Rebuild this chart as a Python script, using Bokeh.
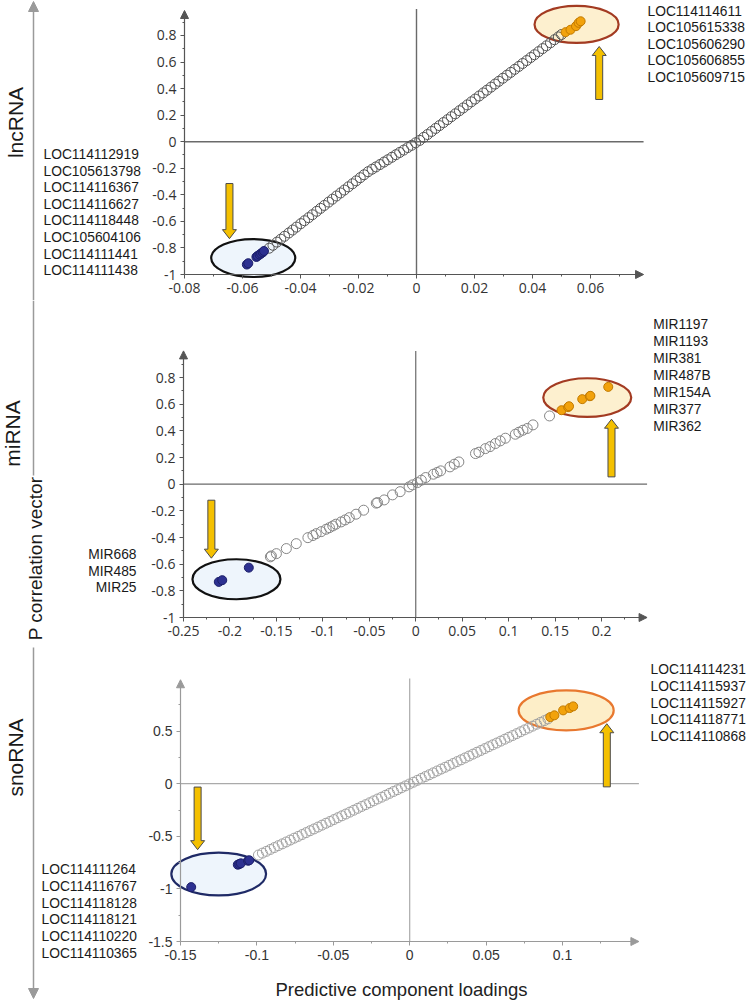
import math
from bokeh.plotting import figure
from bokeh.models import Range1d, FixedTicker, CustomJSTickFormatter, Label, Arrow, NormalHead
from bokeh.layouts import column
from bokeh.embed import file_html
from bokeh.resources import INLINE
from bokeh.core.properties import value

# ---------------- data ----------------
# lncRNA panel
lnc_x = [-0.0508,-0.0495,-0.0481,-0.0468,-0.0455,-0.0440,-0.0427,-0.0414,-0.0399,-0.0386,
         -0.0372,-0.0359,-0.0344,-0.0331,-0.0318,-0.0303,-0.0290,-0.0276,-0.0262,-0.0249,
         -0.0235,-0.0221,-0.0208,-0.0194,-0.0181,-0.0167,-0.0153,-0.0140,-0.0126,-0.0112,
         -0.0099,-0.0085,-0.0071,-0.0058,-0.0044,-0.0030,-0.0017,-0.0003,0.0011,0.0025,
         0.0038,0.0052,0.0066,0.0079,0.0093,0.0107,0.0120,0.0134,0.0148,0.0161,
         0.0175,0.0189,0.0202,0.0216,0.0230,0.0243,0.0257,0.0271,0.0284,0.0298,
         0.0312,0.0325,0.0339,0.0353,0.0366,0.0380,0.0394,0.0407,0.0421,0.0435,
         0.0448,0.0462,0.0476,0.0489,0.0500]
lnc_y = [-0.802,-0.780,-0.756,-0.734,-0.712,-0.687,-0.665,-0.643,-0.617,-0.595,
         -0.572,-0.550,-0.524,-0.502,-0.480,-0.455,-0.433,-0.409,-0.386,-0.364,
         -0.340,-0.317,-0.295,-0.271,-0.249,-0.226,-0.207,-0.190,-0.172,-0.153,
         -0.136,-0.117,-0.098,-0.081,-0.063,-0.044,-0.027,-0.008,0.010,0.033,
         0.054,0.077,0.100,0.121,0.144,0.166,0.188,0.210,0.233,0.254,
         0.277,0.300,0.321,0.344,0.367,0.388,0.411,0.434,0.455,0.478,
         0.501,0.522,0.545,0.567,0.589,0.611,0.634,0.655,0.678,0.701,
         0.722,0.745,0.768,0.789,0.807]
lnc_down_x = [-0.0585,-0.0580,-0.0552,-0.0548,-0.0541,-0.0536,-0.0530,-0.0526]
lnc_down_y = [-0.925,-0.915,-0.868,-0.860,-0.850,-0.842,-0.833,-0.823]
lnc_up_x = [0.0514,0.0531,0.0550,0.0559,0.0566]
lnc_up_y = [0.825,0.843,0.870,0.895,0.907]
lnc_up_names = ["LOC114114611","LOC105615338","LOC105606290","LOC105606855","LOC105609715"]
lnc_down_names = ["LOC114112919","LOC105613798","LOC114116367","LOC114116627",
                  "LOC114118448","LOC105604106","LOC114111441","LOC114111438"]

# miRNA panel
mi_x = [-0.1565,-0.1554,-0.1500,-0.1393,-0.1286,-0.1161,-0.1107,-0.1072,-0.1018,-0.0965,
        -0.0929,-0.0893,-0.0804,-0.0715,-0.0643,-0.0561,-0.0425,-0.0411,-0.0340,-0.0250,
        -0.0168,-0.0072,-0.0035,0.0018,0.0107,0.0190,0.0268,0.0368,0.0415,0.0464,
        0.0643,0.0680,0.0750,0.0800,0.0857,0.0965,0.1072,0.1154,0.1200,0.1262,0.1440,
        -0.0860,-0.0760,0.0060,0.0230,0.0910,0.1110]
mi_y = [-0.545,-0.538,-0.521,-0.483,-0.446,-0.401,-0.385,-0.371,-0.356,-0.338,
        -0.326,-0.313,-0.283,-0.251,-0.225,-0.195,-0.142,-0.138,-0.118,-0.080,
        -0.056,-0.020,-0.005,0.012,0.050,0.075,0.100,0.130,0.150,0.167,
        0.230,0.240,0.267,0.282,0.305,0.345,0.375,0.405,0.418,0.445,0.512,
        -0.300,-0.268,0.030,0.088,0.325,0.390]
mi_down_x = [-0.2120,-0.2083,-0.1797]
mi_down_y = [-0.733,-0.720,-0.626]
mi_up_x = [0.1569,0.1640,0.1650,0.1792,0.1874,0.1880,0.2072]
mi_up_y = [0.555,0.578,0.585,0.638,0.660,0.663,0.730]
mi_up_names = ["MIR1197","MIR1193","MIR381","MIR487B","MIR154A","MIR377","MIR362"]
mi_down_names = ["MIR668","MIR485","MIR25"]

# snoRNA panel
sno_x = [-0.0990,-0.0964,-0.0938,-0.0912,-0.0886,-0.0860,-0.0834,-0.0808,-0.0782,-0.0756,
         -0.0730,-0.0704,-0.0678,-0.0652,-0.0626,-0.0600,-0.0574,-0.0548,-0.0522,-0.0496,
         -0.0470,-0.0444,-0.0418,-0.0392,-0.0366,-0.0340,-0.0314,-0.0288,-0.0262,-0.0236,
         -0.0210,-0.0184,-0.0158,-0.0132,-0.0106,-0.0080,-0.0054,-0.0028,-0.0002,0.0024,
         0.0050,0.0076,0.0102,0.0128,0.0154,0.0180,0.0206,0.0232,0.0258,0.0284,
         0.0310,0.0336,0.0362,0.0388,0.0414,0.0440,0.0466,0.0492,0.0518,0.0544,
         0.0570,0.0596,0.0622,0.0648,0.0674,0.0700,0.0726,0.0752,0.0778,0.0804,
         0.0830,0.0856,0.0882,0.0905]
sno_y = [-0.678,-0.660,-0.643,-0.625,-0.607,-0.589,-0.572,-0.554,-0.536,-0.518,
         -0.501,-0.483,-0.465,-0.447,-0.430,-0.412,-0.394,-0.376,-0.359,-0.341,
         -0.323,-0.305,-0.288,-0.270,-0.252,-0.234,-0.216,-0.199,-0.181,-0.163,
         -0.145,-0.128,-0.110,-0.092,-0.074,-0.057,-0.039,-0.021,-0.003,0.014,
         0.032,0.050,0.068,0.085,0.103,0.121,0.139,0.156,0.174,0.192,
         0.210,0.227,0.245,0.263,0.281,0.299,0.316,0.334,0.352,0.370,
         0.387,0.405,0.423,0.441,0.458,0.476,0.494,0.512,0.529,0.547,
         0.565,0.583,0.600,0.616]
sno_down_x = [-0.1430,-0.1125,-0.1115,-0.1105,-0.1058,-0.1050]
sno_down_y = [-0.983,-0.770,-0.764,-0.757,-0.732,-0.728]
sno_up_x = [0.0920,0.0947,0.1004,0.1047,0.1070]
sno_up_y = [0.633,0.650,0.697,0.719,0.735]
sno_up_names = ["LOC114114231","LOC114115937","LOC114115927","LOC114118771","LOC114110868"]
sno_down_names = ["LOC114111264","LOC114116767","LOC114118128","LOC114118121",
                  "LOC114110220","LOC114110365"]

group_names = ["lncRNA", "miRNA", "snoRNA"]

# tick values
p1_xt = [-0.08,-0.06,-0.04,-0.02,0,0.02,0.04,0.06]
p1_xmt = [-0.07,-0.05,-0.03,-0.01,0.01,0.03,0.05,0.07]
p1_yt = [-1,-0.8,-0.6,-0.4,-0.2,0,0.2,0.4,0.6,0.8]
p1_ymt = [-0.9,-0.7,-0.5,-0.3,-0.1,0.1,0.3,0.5,0.7,0.9]
p2_xt = [-0.25,-0.2,-0.15,-0.1,-0.05,0,0.05,0.1,0.15,0.2]
p2_xmt = [-0.225,-0.175,-0.125,-0.075,-0.025,0.025,0.075,0.125,0.175,0.225]
p2_yt = p1_yt
p2_ymt = p1_ymt
p3_xt = [-0.15,-0.1,-0.05,0,0.05,0.1]
p3_xmt = [-0.125,-0.075,-0.025,0.025,0.075,0.125]
p3_yt = [-1.5,-1,-0.5,0,0.5]
p3_ymt = [-1.25,-0.75,-0.25,0.25,0.75]

BLUE, BLUE_LINE = "#2d3191", "#1c1f6a"
ORANGE, ORANGE_LINE = "#f2a20c", "#c27a00"
ARROW_FILL, ARROW_LINE = "#f4c000", "#4a4a4a"
LABEL_FONT = "Liberation Sans"
GRAY = "#9a9a9a"

PAGE_L, PAGE_R = 0, 748
FIG_W = PAGE_R - PAGE_L

panels = [
    dict(fig_top=0, fig_h=300, frame_left=184, frame_bottom=274,
         x0=-0.08, sx=2900.0, y0=-1.0, sy=132.8,
         xtip=0.0783, ytip=0.988, vtop=1.0,
         xt=p1_xt, xmt=p1_xmt, yt=p1_yt, ymt=p1_ymt,
         axis_color="#555555", zero_color="#6a6a6a", zero_w=1.4, circ_color="#555555",
         tick_font="Open Sans",
         ox=lnc_x, oy=lnc_y, bx=lnc_down_x, by=lnc_down_y, ux=lnc_up_x, uy=lnc_up_y,
         ell_down=(-0.0563, -0.876, 0.029, 0.286, "#111111"),
         ell_up=(0.0552, 0.883, 0.029, 0.279, "#a33b22", "#fdf0cf"),
         arr_down=(-0.0645, -0.315, -0.73), arr_up=(0.063, 0.318, 0.717),
         up_names=lnc_up_names, up_pos=(647, 10.5, 16.6, "left"),
         down_names=lnc_down_names, down_pos=(43, 154, 16.6, "left"),
         side_lines=[(300, 1, True)], side_text=[(group_names[0], 15, 122, 21)]),
    dict(fig_top=300, fig_h=340, frame_left=183, frame_bottom=617,
         x0=-0.25, sx=929.0, y0=-1.0, sy=133.3,
         xtip=0.249, ytip=1.0, vtop=1.0,
         xt=p2_xt, xmt=p2_xmt, yt=p2_yt, ymt=p2_ymt,
         axis_color="#555555", zero_color="#6a6a6a", zero_w=1.2, circ_color="#858585",
         tick_font="Open Sans",
         ox=mi_x, oy=mi_y, bx=mi_down_x, by=mi_down_y, ux=mi_up_x, uy=mi_up_y,
         ell_down=(-0.193, -0.713, 0.0947, 0.30, "#111111"),
         ell_up=(0.1846, 0.65, 0.0947, 0.29, "#a33b22", "#fdf0cf"),
         arr_down=(-0.220, -0.12, -0.555), arr_up=(0.2107, 0.055, 0.4875),
         up_names=mi_up_names, up_pos=(652.7, 324.3, 16.95, "left"),
         down_names=mi_down_names, down_pos=(136, 554, 16.7, "right"),
         side_lines=[(300, 475, False)],
         side_text=[(group_names[1], 11.5, 433, 21), ("P correlation vector", 35, 558, 19)]),
    dict(fig_top=640, fig_h=360, frame_left=180, frame_bottom=941,
         x0=-0.15, sx=1528.0, y0=-1.5, sy=105.2,
         xtip=0.15, ytip=0.988, vtop=1.0,
         xt=p3_xt, xmt=p3_xmt, yt=p3_yt, ymt=p3_ymt,
         axis_color="#9a9a9a", zero_color="#aaaaaa", zero_w=1.2, circ_color="#a3a3a3",
         tick_font="Liberation Sans",
         ox=sno_x, oy=sno_y, bx=sno_down_x, by=sno_down_y, ux=sno_up_x, uy=sno_up_y,
         ell_down=(-0.125, -0.859, 0.062, 0.406, "#1f2a66"),
         ell_up=(0.1024, 0.697, 0.0622, 0.38, "#e8782f", "#fdeec8"),
         arr_down=(-0.1388, -0.032, -0.627), arr_up=(0.129, -0.03, 0.57),
         up_names=sno_up_names, up_pos=(650, 669.3, 16.7, "left"),
         down_names=sno_down_names, down_pos=(41, 868.7, 16.9, "left"),
         side_lines=[(647, 998, True)], side_text=[(group_names[2], 15, 757, 21)]),
]

fmt_code = "return String(Math.round(tick*1000)/1000);"


def to_data(c, px, py):
    return (c["x0"] + (px - c["frame_left"]) / c["sx"],
            c["y0"] + (c["frame_bottom"] - py) / c["sy"])


def block_arrow(p, c, xc, y_tail, y_tip, shaft=7, head=14, hlen=9):
    d = 1 if y_tip > y_tail else -1
    sw = shaft / 2 / c["sx"]
    hw = head / 2 / c["sx"]
    hl = hlen / c["sy"]
    yb = y_tip - d * hl
    xs = [xc - sw, xc + sw, xc + sw, xc + hw, xc, xc - hw, xc - sw]
    ys = [y_tail, y_tail, yb, yb, y_tip, yb, yb]
    p.patch(xs, ys, fill_color=ARROW_FILL, line_color=ARROW_LINE, line_width=1)


def build_panel(c):
    fig_bottom = c["fig_top"] + c["fig_h"]
    xl, yb = to_data(c, PAGE_L, fig_bottom)
    xr, yt = to_data(c, PAGE_R, c["fig_top"])
    x0, sx, y0, sy = c["x0"], c["sx"], c["y0"], c["sy"]
    p = figure(width=FIG_W, height=c["fig_h"],
               x_range=Range1d(xl, xr), y_range=Range1d(yb, yt),
               output_backend="svg", toolbar_location=None, min_border=0)
    p.grid.visible = False
    p.outline_line_color = None
    ac = c["axis_color"]
    xa, ya = p.xaxis[0], p.yaxis[0]
    xa.fixed_location = y0
    ya.fixed_location = x0
    for ax, ticks, mticks, bounds in ((xa, c["xt"], c["xmt"], (x0, c["xtip"] - 4 / sx)),
                                     (ya, c["yt"], c["ymt"], (y0, c["ytip"] - 4 / sy))):
        ax.ticker = FixedTicker(ticks=ticks, minor_ticks=mticks)
        ax.formatter = CustomJSTickFormatter(code=fmt_code)
        ax.bounds = bounds
        ax.axis_line_color = ac
        ax.axis_line_width = 1.2
        ax.major_tick_line_color = ac
        ax.minor_tick_line_color = ac
        ax.major_tick_in = 0
        ax.major_tick_out = 4
        ax.minor_tick_in = 0
        ax.minor_tick_out = 2
        ax.major_label_text_font = c["tick_font"]
        ax.major_label_text_font_size = "14px"
        ax.major_label_text_color = "#333333"
        ax.major_label_standoff = 4
    # axis arrow heads
    p.add_layout(Arrow(end=NormalHead(size=8, fill_color=ac, line_color=ac, line_width=1),
                       x_start=c["xtip"] - 6 / sx, y_start=y0, x_end=c["xtip"], y_end=y0,
                       line_color=ac, line_width=1.2))
    p.add_layout(Arrow(end=NormalHead(size=8, fill_color=ac, line_color=ac, line_width=1),
                       x_start=x0, y_start=c["ytip"] - 6 / sy, x_end=x0, y_end=c["ytip"],
                       line_color=ac, line_width=1.2))
    # zero lines
    p.segment(x0=[x0], y0=[0], x1=[c["xtip"]], y1=[0], line_color=c["zero_color"], line_width=c["zero_w"])
    p.segment(x0=[0], y0=[y0], x1=[0], y1=[c["vtop"]], line_color=c["zero_color"], line_width=c["zero_w"])
    # ellipses
    ex, ey, ew, eh, elc = c["ell_down"]
    p.ellipse(x=[ex], y=[ey], width=[ew], height=[eh], fill_color="#eef5fc", line_color=elc, line_width=2.2)
    ex, ey, ew, eh, elc, efc = c["ell_up"]
    p.ellipse(x=[ex], y=[ey], width=[ew], height=[eh], fill_color=efc, line_color=elc, line_width=2.2)
    # points
    p.scatter(c["ox"], c["oy"], size=10, marker="circle", fill_alpha=0,
              line_color=c["circ_color"], line_width=1)
    p.scatter(c["bx"], c["by"], size=9, marker="circle", fill_color=BLUE, line_color=BLUE_LINE, line_width=1)
    p.scatter(c["ux"], c["uy"], size=9, marker="circle", fill_color=ORANGE, line_color=ORANGE_LINE, line_width=1)
    # yellow arrows
    block_arrow(p, c, *c["arr_down"])
    block_arrow(p, c, *c["arr_up"])
    # gene labels
    for names, (px, py0, dy, align) in ((c["up_names"], c["up_pos"]), (c["down_names"], c["down_pos"])):
        for i, n in enumerate(names):
            lx, ly = to_data(c, px, py0 + dy * i)
            p.add_layout(Label(x=lx, y=ly, text=n, text_align=align, text_baseline="middle",
                               text_font=LABEL_FONT, text_font_size="13.8px", text_color="#1a1a1a"))
    # big left arrow (screen x = 33)
    for py_start, py_end, head in c["side_lines"]:
        xs_, ys_ = to_data(c, 33, py_start)
        xe_, ye_ = to_data(c, 33, py_end)
        if head:
            p.add_layout(Arrow(end=NormalHead(size=10, fill_color=GRAY, line_color=GRAY),
                               x_start=xs_, y_start=ys_, x_end=xe_, y_end=ye_,
                               line_color=GRAY, line_width=1.5))
        else:
            p.segment(x0=[xs_], y0=[ys_], x1=[xe_], y1=[ye_], line_color=GRAY, line_width=1.5)
    for txt, px, py, fs in c["side_text"]:
        tx, ty = to_data(c, px, py)
        p.text(x=[tx], y=[ty], text=[txt], angle=math.pi / 2,
               text_align="center", text_baseline="middle", text_font=value(LABEL_FONT),
               text_font_size=f"{fs}px", text_color="#1a1a1a")
    return p


figs = [build_panel(c) for c in panels]

# bottom axis title
bx_, by_ = to_data(panels[2], 401, 989)
figs[2].add_layout(Label(x=bx_, y=by_, text="Predictive component loadings", text_align="center",
                         text_baseline="middle", text_font=LABEL_FONT, text_font_size="18.5px",
                         text_color="#222222"))

layout = column(*figs)
open("out.html", "w").write(file_html(layout, INLINE))
